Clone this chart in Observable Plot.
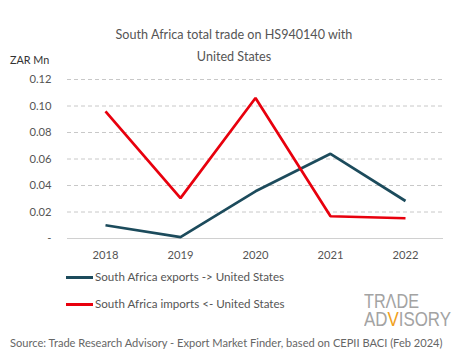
<!DOCTYPE html>
<html><head><meta charset="utf-8">
<script src="https://cdn.jsdelivr.net/npm/d3@7"></script>
<script src="https://cdn.jsdelivr.net/npm/@observablehq/plot@0.6"></script>
<style>
body{margin:0;background:#fff;font-family:Lato,"Open Sans",sans-serif;color:#555;}
#wrap{position:relative;width:465px;height:359px;overflow:hidden;}
.abs{position:absolute;white-space:nowrap;}
</style></head><body>
<div id="wrap"></div>
<script>
const years = ["2018","2019","2020","2021","2022"];
const exportsUS = [0.010, 0.001, 0.0356, 0.0639, 0.0283];
const importsUS = [0.0959, 0.0305, 0.106, 0.0168, 0.0153];
const yTicks = [0, 0.02, 0.04, 0.06, 0.08, 0.10, 0.12];
const yTickLabels = ["-", "0.02", "0.04", "0.06", "0.08", "0.10", "0.12"];
const seriesNames = ["South Africa exports -> United States", "South Africa imports <- United States"];
const seriesColors = ["#1c4b5c", "#e8000d"];

const data = [];
years.forEach((y,i)=>{
  data.push({year:y, value:exportsUS[i], series:seriesNames[0]});
  data.push({year:y, value:importsUS[i], series:seriesNames[1]});
});

const chart = Plot.plot({
  width:465, height:359,
  marginTop:79, marginBottom:121, marginLeft:67, marginRight:22,
  style:{fontFamily:"Lato, 'Open Sans', sans-serif", fontSize:"11.2px", color:"#555", background:"transparent"},
  x:{type:"point", domain:years, padding:0.5, label:null},
  y:{domain:[0,0.12], label:null},
  color:{domain:seriesNames, range:seriesColors},
  marks:[
    Plot.gridY(yTicks.filter(d=>d>0), {stroke:"#c8c8c8", strokeOpacity:1, strokeDasharray:"4,3"}),
    Plot.ruleY([0], {stroke:"#d0d0d0"}),
    Plot.axisY({ticks:yTicks, tickSize:0, tickPadding:16, tickFormat:(d)=>yTickLabels[yTicks.indexOf(d)], label:null, fill:"#555"}),
    Plot.axisX({tickSize:0, tickPadding:13, label:null, fill:"#555"}),
    Plot.line(data, {x:"year", y:"value", z:"series", stroke:"series", strokeWidth:2.7, strokeLinejoin:"miter", strokeLinecap:"butt"})
  ]
});
const wrap = document.getElementById("wrap");
chart.style.position="absolute"; chart.style.left="0"; chart.style.top="0";
wrap.appendChild(chart);

function add(html, css){const d=document.createElement("div");d.className="abs";d.innerHTML=html;Object.assign(d.style,css);wrap.appendChild(d);return d;}
function fitWidth(el, w){const r=el.getBoundingClientRect().width; el.style.transformOrigin="0 0"; el.style.transform=`scaleX(${w/r})`;}
add("South Africa total trade on HS940140 with",{left:"0",width:"468px",textAlign:"center",top:"27px",fontSize:"12.6px"});
add("United States",{left:"0",width:"468px",textAlign:"center",top:"49px",fontSize:"12.6px"});
add("ZAR Mn",{left:"10px",top:"53px",fontSize:"10.8px",color:"#333"});
seriesNames.forEach((n,i)=>{
  const top = 270 + i*27;
  add(`<span style="display:inline-block;width:27px;height:3px;background:${seriesColors[i]};vertical-align:middle;margin-right:2px;position:relative;top:-1px"></span>${n}`,{left:"66px",top:top+"px",fontSize:"11.6px"});
});
const logoFont = "'Liberation Sans','DejaVu Sans',sans-serif";
const logo = add('<span id="l1" style="display:inline-block">TRΛDE</span><br><span id="l2" style="display:inline-block">AD<span style="color:#f0a020">V</span>ISORY</span>',
  {left:"364px",top:"292px",fontSize:"21px",fontFamily:logoFont,color:"#a3a3a3",lineHeight:"18px"});
fitWidth(document.getElementById("l1"), 55);
fitWidth(document.getElementById("l2"), 87);
add("Source: Trade Research Advisory - Export Market Finder, based on CEPII BACI (Feb 2024)",{left:"10px",top:"336px",fontSize:"11.1px",color:"#666"});
</script>
</body></html>
